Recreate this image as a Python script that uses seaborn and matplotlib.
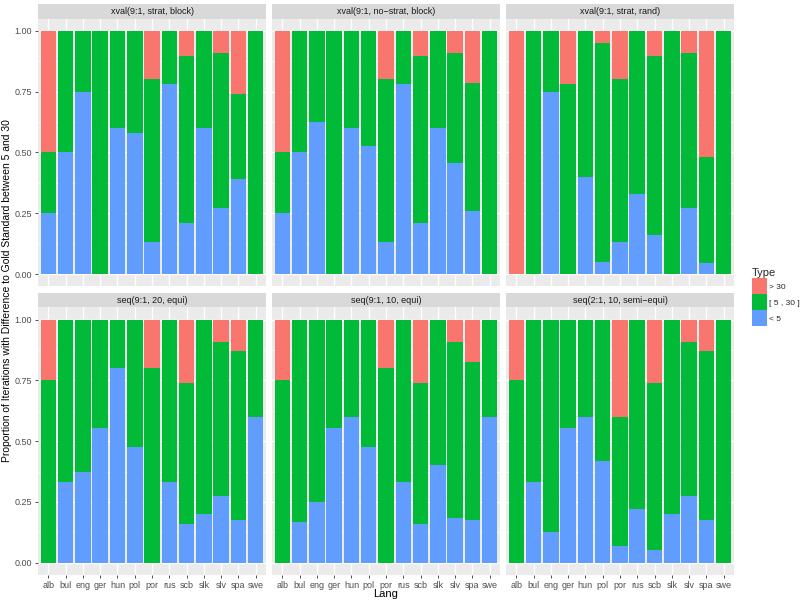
import matplotlib
matplotlib.use("Agg")
import matplotlib.pyplot as plt
from matplotlib.patches import Patch, Rectangle
import seaborn as sns
import pandas as pd

langs = ['alb', 'bul', 'eng', 'ger', 'hun', 'pol', 'por', 'rus', 'scb', 'slk', 'slv', 'spa', 'swe']
facets = ['xval(9:1, strat, block)', 'xval(9:1, no\u2212strat, block)', 'xval(9:1, strat, rand)',
          'seq(9:1, 20, equi)', 'seq(9:1, 10, equi)', 'seq(2:1, 10, semi\u2212equi)']
types = ['> 30', '[ 5 , 30 ]', '< 5']

# proportion "< 5" per facet (rows) and language (cols)
lt5 = [
    [0.25, 0.50, 0.75, 0.00, 0.60, 0.58, 0.13, 0.78, 0.21, 0.60, 0.27, 0.39, 0.00],
    [0.25, 0.50, 0.625, 0.00, 0.60, 0.525, 0.13, 0.78, 0.21, 0.60, 0.455, 0.26, 0.00],
    [0.00, 0.00, 0.75, 0.00, 0.40, 0.05, 0.13, 0.33, 0.16, 0.00, 0.27, 0.045, 0.00],
    [0.00, 0.333, 0.375, 0.556, 0.80, 0.474, 0.00, 0.333, 0.158, 0.20, 0.273, 0.174, 0.60],
    [0.00, 0.167, 0.25, 0.556, 0.60, 0.474, 0.00, 0.333, 0.158, 0.40, 0.182, 0.174, 0.60],
    [0.00, 0.333, 0.125, 0.556, 0.60, 0.42, 0.067, 0.222, 0.053, 0.20, 0.273, 0.174, 0.00],
]
# proportion "[5, 30]"
mid = [
    [0.25, 0.50, 0.25, 1.00, 0.40, 0.42, 0.67, 0.22, 0.685, 0.40, 0.64, 0.35, 1.00],
    [0.25, 0.50, 0.375, 1.00, 0.40, 0.475, 0.67, 0.22, 0.685, 0.40, 0.455, 0.525, 1.00],
    [0.00, 1.00, 0.25, 0.78, 0.60, 0.90, 0.67, 0.67, 0.735, 1.00, 0.64, 0.435, 1.00],
    [0.75, 0.667, 0.625, 0.444, 0.20, 0.526, 0.80, 0.667, 0.579, 0.80, 0.636, 0.696, 0.40],
    [0.75, 0.833, 0.75, 0.444, 0.40, 0.526, 0.80, 0.667, 0.579, 0.60, 0.727, 0.652, 0.40],
    [0.75, 0.667, 0.875, 0.444, 0.40, 0.58, 0.533, 0.778, 0.684, 0.80, 0.636, 0.696, 1.00],
]
# proportion "> 30"
gt30 = [
    [0.50, 0, 0, 0, 0, 0, 0.20, 0, 0.105, 0, 0.09, 0.26, 0],
    [0.50, 0, 0, 0, 0, 0, 0.20, 0, 0.105, 0, 0.09, 0.215, 0],
    [1.00, 0, 0, 0.22, 0, 0.05, 0.20, 0, 0.105, 0, 0.09, 0.52, 0],
    [0.25, 0, 0, 0, 0, 0, 0.20, 0, 0.263, 0, 0.091, 0.13, 0],
    [0.25, 0, 0, 0, 0, 0, 0.20, 0, 0.263, 0, 0.091, 0.174, 0],
    [0.25, 0, 0, 0, 0, 0, 0.40, 0, 0.263, 0, 0.091, 0.13, 0],
]

colors = {'> 30': '#F8766D', '[ 5 , 30 ]': '#00BA38', '< 5': '#619CFF'}

sns.set_theme(style="darkgrid", rc={
    'axes.facecolor': '#EBEBEB',
    'grid.color': 'white',
    'axes.edgecolor': 'none',
})
plt.rcParams['font.family'] = ['Liberation Sans', 'DejaVu Sans']

rows = []
for f, name in enumerate(facets):
    for i, lang in enumerate(langs):
        rows.append({'facet': name, 'Lang': lang,
                     'blue': lt5[f][i],
                     'green': lt5[f][i] + mid[f][i],
                     'red': lt5[f][i] + mid[f][i] + gt30[f][i]})
df = pd.DataFrame(rows)

fig, axes = plt.subplots(2, 3, figsize=(8, 6.02), dpi=100, sharex=True, sharey=True)
fig.subplots_adjust(left=0.0475, right=0.9175, top=0.969, bottom=0.045, wspace=0.026, hspace=0.079)

for k, ax in enumerate(axes.flat):
    sub = df[df['facet'] == facets[k]]
    for col, key in [('red', '> 30'), ('green', '[ 5 , 30 ]'), ('blue', '< 5')]:
        sns.barplot(data=sub, x='Lang', y=col, order=langs, color=colors[key], saturation=1,
                    width=0.9, errorbar=None, linewidth=0, ax=ax)
    ax.set_xlim(-0.6, 12.6)
    ax.set_ylim(-0.05, 1.05)
    ax.set_yticks([0, 0.25, 0.5, 0.75, 1.0])
    ax.set_yticks([0.125, 0.375, 0.625, 0.875], minor=True)
    ax.grid(True, which='major', color='white', linewidth=1.0)
    ax.grid(True, which='minor', axis='y', color='white', linewidth=0.5)
    ax.set_axisbelow(True)
    ax.set_xlabel('')
    ax.set_ylabel('')
    ax.tick_params(axis='both', which='major', length=2.5, width=0.6, color='#333333',
                   labelsize=6.5, labelcolor='#4D4D4D', pad=2, left=True, bottom=True)
    ax.tick_params(axis='both', which='minor', length=0)
    ax.set_yticklabels(['0.00', '0.25', '0.50', '0.75', '1.00'])
    if k % 3 != 0:
        ax.tick_params(axis='y', left=False, labelleft=False)
    if k < 3:
        ax.tick_params(axis='x', bottom=False, labelbottom=False)
    # facet strip
    strip_h = 14.5 / (ax.get_position().height * 602)
    ax.add_patch(Rectangle((0, 1), 1, strip_h, transform=ax.transAxes, facecolor='#D9D9D9',
                           edgecolor='none', clip_on=False))
    ax.text(0.5, 1 + strip_h / 2, facets[k], transform=ax.transAxes, ha='center', va='center',
            fontsize=6.5, color='#1A1A1A')

fig.text(0.009, 1 - 291 / 602,
         'Proportion of Iterations with Difference to Gold Standard between 5 and 30',
         rotation=90, ha='center', va='center', fontsize=7.5, color='black')
fig.text((0.0475 + 0.9175) / 2, 1 - 594 / 602, 'Lang', ha='center', va='center', fontsize=8,
         color='black')

handles = [Patch(facecolor=colors[t], edgecolor='none') for t in types]
leg = fig.legend(handles, types, title='Type', loc='upper left', bbox_to_anchor=(0.935, 0.562),
                 frameon=False, fontsize=6, title_fontsize=8, handlelength=1.75, handleheight=2.5,
                 labelspacing=0.05, handletextpad=0.3, borderpad=0)
leg._legend_box.align = 'left'

fig.savefig('out.png', dpi=100)
